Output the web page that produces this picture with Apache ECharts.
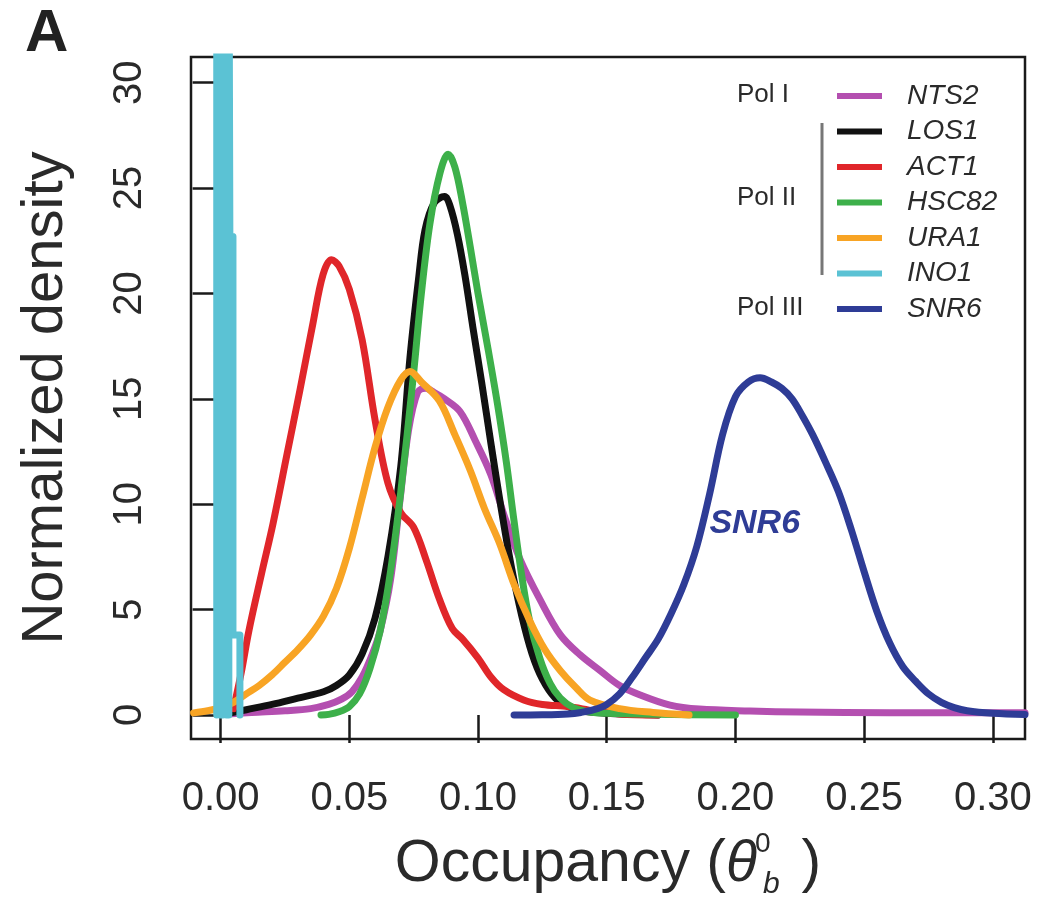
<!DOCTYPE html>
<html>
<head>
<meta charset="utf-8">
<script src="https://cdn.jsdelivr.net/npm/echarts@6/dist/echarts.min.js"></script>
<style>
  html, body { margin: 0; padding: 0; background: #fff; }
  #chart { width: 1040px; height: 905px; }
</style>
</head>
<body>
<div id="chart"></div>
<script>
// ---- data (occupancy, normalized density) ----
const seriesNames = ['NTS2', 'LOS1', 'ACT1', 'HSC82', 'URA1', 'INO1', 'SNR6'];
const seriesColors = ['#B44FB0', '#111111', '#E0262A', '#3DB04A', '#F8A424', '#5BC2D4', '#2E3C96'];

const NTS2 = [[0.003,0.05],[0.012,0.12],[0.025,0.2],[0.035,0.3],[0.042,0.5],[0.047,0.75],[0.051,1.1],[0.055,1.8],[0.059,2.9],[0.062,4.0],[0.066,6.4],[0.0697,10.2],[0.073,13.5],[0.0765,15.3],[0.0795,15.5],[0.083,15.3],[0.087,15.0],[0.093,14.4],[0.099,13.0],[0.105,11.4],[0.1106,9.3],[0.1163,7.4],[0.124,5.5],[0.132,3.8],[0.1397,2.85],[0.1475,2.1],[0.155,1.4],[0.163,0.95],[0.1746,0.47],[0.186,0.28],[0.2057,0.19],[0.225,0.14],[0.26,0.11],[0.3125,0.1]];
const LOS1 = [[0.002,0.05],[0.01,0.25],[0.02,0.5],[0.03,0.8],[0.04,1.1],[0.045,1.4],[0.05,1.9],[0.055,2.9],[0.06,4.6],[0.065,7.5],[0.07,11.8],[0.0736,17.0],[0.077,20.8],[0.0794,23.0],[0.083,24.3],[0.087,24.6],[0.089,24.2],[0.092,22.8],[0.095,20.8],[0.098,18.4],[0.1014,15.8],[0.105,12.9],[0.109,9.8],[0.113,7.0],[0.117,4.7],[0.121,2.9],[0.125,1.7],[0.13,0.8],[0.135,0.4],[0.14,0.2],[0.15,0.08],[0.16,0.03],[0.17,0.0]];
const ACT1 = [[0.005,0.3],[0.008,2.0],[0.011,4.0],[0.0159,6.7],[0.0204,9.1],[0.0256,12.25],[0.0308,15.4],[0.0359,18.6],[0.0398,20.9],[0.0431,21.6],[0.046,21.3],[0.05,20.2],[0.055,17.8],[0.06,14.0],[0.065,11.0],[0.07,9.6],[0.075,8.9],[0.08,7.3],[0.085,5.5],[0.09,4.1],[0.094,3.6],[0.1,2.7],[0.105,1.8],[0.11,1.2],[0.118,0.7],[0.125,0.5],[0.135,0.4],[0.145,0.2],[0.155,0.05],[0.17,0.0]];
const HSC82 = [[0.039,0.0],[0.042,0.03],[0.046,0.15],[0.05,0.4],[0.054,1.0],[0.058,2.2],[0.062,4.0],[0.066,6.8],[0.07,10.6],[0.0748,16.0],[0.078,20.0],[0.0813,23.3],[0.0852,25.7],[0.0884,26.6],[0.091,26.0],[0.094,24.3],[0.097,22.2],[0.1,20.0],[0.104,17.3],[0.1075,14.8],[0.111,12.0],[0.114,9.2],[0.117,6.6],[0.12,4.5],[0.124,2.7],[0.128,1.5],[0.132,0.8],[0.137,0.35],[0.143,0.15],[0.15,0.08],[0.17,0.03],[0.2,0.0]];
const URA1 = [[-0.0105,0.1],[-0.005,0.2],[0.0,0.35],[0.005,0.6],[0.01,1.0],[0.015,1.4],[0.02,1.9],[0.025,2.5],[0.03,3.1],[0.035,3.8],[0.04,4.7],[0.045,6.0],[0.05,7.9],[0.055,10.3],[0.06,12.7],[0.065,14.6],[0.07,15.9],[0.0736,16.3],[0.078,15.8],[0.085,14.9],[0.091,13.3],[0.097,11.6],[0.1025,9.8],[0.1085,8.1],[0.114,6.2],[0.12,4.5],[0.126,3.1],[0.132,2.1],[0.138,1.3],[0.1435,0.7],[0.155,0.3],[0.168,0.12],[0.182,0.0]];
const INO1 = [[-0.0015,0.0],[-0.0015,40],[-0.0003,40],[-0.0003,0.0],[0.0009,0.0],[0.0009,40],[0.0022,40],[0.0022,0.0],[0.0032,0.0],[0.0032,40],[0.0036,40],[0.0036,22.7],[0.0048,22.7],[0.0048,3.8],[0.0075,3.8],[0.0075,0.0]];
const SNR6 = [[0.114,0.0],[0.125,0.01],[0.135,0.05],[0.14,0.12],[0.145,0.25],[0.15,0.5],[0.155,1.0],[0.16,1.8],[0.165,2.7],[0.17,3.6],[0.175,4.8],[0.18,6.2],[0.185,8.0],[0.19,10.5],[0.195,13.3],[0.2,15.1],[0.205,15.8],[0.2096,16.0],[0.214,15.8],[0.218,15.5],[0.222,15.0],[0.226,14.2],[0.23,13.3],[0.235,12.0],[0.24,10.6],[0.245,8.8],[0.25,6.8],[0.255,4.9],[0.26,3.4],[0.265,2.3],[0.27,1.6],[0.275,1.0],[0.28,0.6],[0.285,0.35],[0.29,0.2],[0.3,0.08],[0.3125,0.02]];
const seriesData = [NTS2, LOS1, ACT1, HSC82, URA1, INO1, SNR6];

const xTicks = [0.00, 0.05, 0.10, 0.15, 0.20, 0.25, 0.30];
const yTicks = [0, 5, 10, 15, 20, 25, 30];
const polGroups = ['Pol I', 'Pol II', 'Pol III'];
const xTitle = 'Occupancy';
const yTitle = 'Normalized density';
const panelLetter = 'A';
const inPlotLabel = { text: 'SNR6', x: 0.2075, y: 9.1 };

// ---- chart ----
const FONT = '"Liberation Sans", Arial, Helvetica, sans-serif';
const chart = echarts.init(document.getElementById('chart'), null, { renderer: 'canvas' });

const series = seriesNames.map((name, i) => {
  const s = {
    name: name,
    type: 'line',
    data: seriesData[i],
    showSymbol: false,
    symbol: 'none',
    smooth: name === 'INO1' ? false : 0.35,
    clip: true,
    lineStyle: { width: 7, color: seriesColors[i], join: 'round', cap: 'round' },
    itemStyle: { color: seriesColors[i] },
    emphasis: { disabled: true },
    silent: true,
    z: 2 + i
  };
  if (name === 'SNR6') {
    s.markPoint = {
      symbol: 'rect',
      symbolSize: 1,
      itemStyle: { color: 'rgba(0,0,0,0)' },
      silent: true,
      data: [{ coord: [inPlotLabel.x, inPlotLabel.y] }],
      label: {
        show: true, position: 'inside', formatter: inPlotLabel.text,
        fontFamily: FONT, fontStyle: 'italic', fontWeight: 'bold', fontSize: 34, color: seriesColors[6]
      }
    };
  }
  return s;
});

chart.setOption({
  animation: false,
  backgroundColor: '#fff',
  grid: {
    left: 191, top: 57, right: 15, bottom: 166,
    containLabel: false, outerBoundsMode: 'none',
    show: true, borderColor: '#1a1a1a', borderWidth: 2.5, backgroundColor: 'transparent'
  },
  xAxis: {
    type: 'value',
    min: -0.0115, max: 0.3125,
    splitLine: { show: false },
    axisLine: { show: false },
    axisTick: { show: true, length: 28, lineStyle: { color: '#1a1a1a', width: 2.5 }, customValues: xTicks },
    axisLabel: {
      customValues: xTicks, margin: 40, fontSize: 40, fontFamily: FONT, color: '#2a2a2a',
      formatter: v => v.toFixed(2)
    },
    name: '{n|' + xTitle + ' (}{t|θ}{sup|0}{sub|b}{n|)}',
    nameLocation: 'middle', nameGap: 91,
    nameTextStyle: {
      fontFamily: FONT, fontSize: 58, color: '#2a2a2a',
      rich: {
        n: { fontFamily: FONT, fontSize: 59, color: '#2a2a2a', lineHeight: 70 },
        t: { fontFamily: FONT, fontSize: 57, fontStyle: 'italic', color: '#2a2a2a', lineHeight: 70 },
        sup: { fontFamily: FONT, fontSize: 28, color: '#2a2a2a', width: 0, verticalAlign: 'top', lineHeight: 34, padding: [0, 0, 0, 6] },
        sub: { fontFamily: FONT, fontSize: 30, fontStyle: 'italic', color: '#2a2a2a', verticalAlign: 'bottom', lineHeight: 30, padding: [0, 22, 0, 0] }
      }
    }
  },
  yAxis: {
    type: 'value',
    min: -1.14, max: 31.22,
    splitLine: { show: false },
    axisLine: { show: false },
    axisTick: { show: true, length: 28, lineStyle: { color: '#1a1a1a', width: 2.5 }, customValues: yTicks },
    axisLabel: {
      customValues: yTicks, margin: 41, fontSize: 40, fontFamily: FONT, color: '#2a2a2a', rotate: 90,
      formatter: v => String(Math.round(v))
    },
    name: yTitle,
    nameLocation: 'middle', nameGap: 116, nameRotate: 90,
    nameTextStyle: { fontFamily: FONT, fontSize: 58, color: '#2a2a2a' }
  },
  legend: {
    orient: 'vertical',
    left: 837, top: 81,
    padding: 0,
    itemGap: 5.5,
    itemWidth: 45, itemHeight: 6,
    icon: 'rect',
    selectedMode: false,
    data: seriesNames,
    textStyle: { fontFamily: FONT, fontSize: 28, fontStyle: 'italic', color: '#2a2a2a', lineHeight: 30, padding: [0, 0, 0, 20] }
  },
  graphic: [
    { type: 'text', left: 25, top: 4, style: { text: panelLetter, font: 'bold 60px ' + FONT, fill: '#222' } },
    { type: 'text', x: 737, y: 95, style: { text: polGroups[0], font: '26px ' + FONT, fill: '#2a2a2a', verticalAlign: 'middle' } },
    { type: 'text', x: 737, y: 198, style: { text: polGroups[1], font: '26px ' + FONT, fill: '#2a2a2a', verticalAlign: 'middle' } },
    { type: 'text', x: 737, y: 308, style: { text: polGroups[2], font: '26px ' + FONT, fill: '#2a2a2a', verticalAlign: 'middle' } },
    { type: 'line', shape: { x1: 822, y1: 123, x2: 822, y2: 275 }, style: { stroke: '#777', lineWidth: 3 } }
  ],
  series: series
});
</script>
</body>
</html>
